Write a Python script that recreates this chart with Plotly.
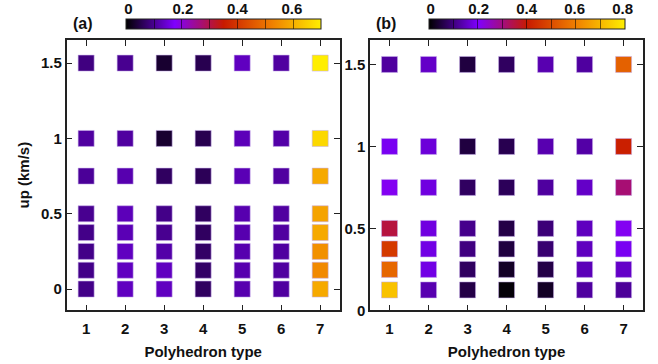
import plotly.graph_objects as go

# ---------------- data ----------------
types = [1, 2, 3, 4, 5, 6, 7]
tick_labels_x = ["1", "2", "3", "4", "5", "6", "7"]

up_a = [0.0, 0.125, 0.25, 0.375, 0.5, 0.75, 1.0, 1.5]
vals_a = [
    [0.093, 0.132, 0.132, 0.066, 0.120, 0.110, 0.590],   # 0
    [0.093, 0.132, 0.132, 0.070, 0.120, 0.110, 0.540],   # 0.125
    [0.093, 0.132, 0.115, 0.070, 0.120, 0.110, 0.550],   # 0.25
    [0.093, 0.124, 0.099, 0.066, 0.120, 0.110, 0.590],   # 0.375
    [0.099, 0.127, 0.093, 0.066, 0.120, 0.110, 0.580],   # 0.5
    [0.104, 0.120, 0.066, 0.060, 0.124, 0.110, 0.590],   # 0.75
    [0.110, 0.110, 0.033, 0.055, 0.127, 0.115, 0.665],   # 1.0
    [0.088, 0.099, 0.033, 0.055, 0.132, 0.110, 0.700],   # 1.5
]

up_b = [0.125, 0.25, 0.375, 0.5, 0.75, 1.0, 1.5]
vals_b = [
    [0.720, 0.138, 0.056, 0.006, 0.030, 0.125, 0.120],   # 0.125
    [0.550, 0.180, 0.075, 0.030, 0.056, 0.144, 0.157],   # 0.25
    [0.460, 0.180, 0.100, 0.050, 0.088, 0.150, 0.190],   # 0.375
    [0.350, 0.176, 0.110, 0.056, 0.094, 0.150, 0.210],   # 0.5
    [0.210, 0.176, 0.075, 0.070, 0.125, 0.157, 0.310],   # 0.75
    [0.190, 0.170, 0.050, 0.063, 0.138, 0.130, 0.410],   # 1.0
    [0.125, 0.157, 0.050, 0.075, 0.138, 0.125, 0.540],   # 1.5
]

cmax_a = 0.7
cmax_b = 0.8
cb_ticks_a = [0, 0.2, 0.4, 0.6]
cb_ticks_b = [0, 0.2, 0.4, 0.6, 0.8]
y_ticks_a = [0, 0.5, 1, 1.5]
y_ticks_b = [0, 0.5, 1, 1.5]

colorscale = [
    [0.0, "#000000"],
    [0.25, "#7f00ff"],
    [0.5, "#c81a00"],
    [0.75, "#f08000"],
    [1.0, "#ffee00"],
]

W, H = 658, 364
FONT = "Liberation Sans"


def px_x(p):
    return p / W


def px_y(p):
    return 1 - p / H


def flatten(ups, vals):
    xs, ys, cs = [], [], []
    for u, row in zip(ups, vals):
        for t, v in zip(types, row):
            xs.append(t)
            ys.append(u)
            cs.append(v)
    return xs, ys, cs


fig = go.Figure()

panel_specs = [
    dict(xa="x", ya="y", ups=up_a, vals=vals_a, cmax=cmax_a,
         cb_left=127, cb_right=322),
    dict(xa="x2", ya="y2", ups=up_b, vals=vals_b, cmax=cmax_b,
         cb_left=436, cb_right=632),
]

cb_top, cb_bot = 17, 27
for spec in panel_specs:
    xs, ys, cs = flatten(spec["ups"], spec["vals"])
    fig.add_trace(go.Scatter(
        x=xs, y=ys, mode="markers", xaxis=spec["xa"], yaxis=spec["ya"],
        showlegend=False, hoverinfo="skip",
        marker=dict(
            symbol="square", size=16, color=cs, colorscale=colorscale,
            cmin=0, cmax=spec["cmax"],
            line=dict(width=0.7, color="rgba(200,175,235,0.8)"),
            colorbar=dict(
                orientation="h",
                x=px_x((spec["cb_left"] + spec["cb_right"]) / 2),
                xanchor="center",
                y=px_y(cb_top), yanchor="top",
                lenmode="pixels", len=spec["cb_right"] - spec["cb_left"],
                thickness=cb_bot - cb_top, thicknessmode="pixels",
                xpad=0, ypad=0,
                outlinewidth=1, outlinecolor="#222",
                ticks="inside", ticklen=cb_bot - cb_top, tickwidth=1,
                tickcolor="rgba(0,0,0,0.55)",
                tick0=0, dtick=0.1, showticklabels=False,
            ),
        ),
    ))

# empty traces on the colorbar label axes
fig.add_trace(go.Scatter(x=[], y=[], xaxis="x3", yaxis="y3", showlegend=False))
fig.add_trace(go.Scatter(x=[], y=[], xaxis="x4", yaxis="y4", showlegend=False))

tickfont = dict(family=FONT, size=15, color="#111", weight="bold")
titlefont = dict(family=FONT, size=15, color="#111", weight="bold")

ydom = [px_y(317), px_y(38)]
common_x = dict(
    range=[0.5, 7.5], tickvals=types, ticktext=tick_labels_x,
    showline=True, linecolor="#222", linewidth=1.5, mirror="ticks",
    ticks="inside", ticklen=6, tickwidth=1.2, tickcolor="#222",
    showgrid=False, zeroline=False, tickfont=tickfont, ticklabelstandoff=4,
    title=dict(text="Polyhedron type", font=titlefont, standoff=10),
)
common_y = dict(
    showline=True, linecolor="#222", linewidth=1.5, mirror="ticks",
    ticks="inside", ticklen=6, tickwidth=1.2, tickcolor="#222",
    showgrid=False, zeroline=False, tickfont=tickfont,
)

fig.update_layout(
    width=W, height=H, margin=dict(l=0, r=0, t=0, b=0),
    paper_bgcolor="white", plot_bgcolor="white",
    xaxis=dict(domain=[px_x(64), px_x(343)], anchor="y", **common_x),
    yaxis=dict(domain=ydom, anchor="x", range=[-0.1417, 1.6545],
               tickvals=y_ticks_a, ticktext=["0", "0.5", "1", "1.5"],
               title=dict(text="up (km/s)", font=titlefont, standoff=8),
               **common_y),
    xaxis2=dict(domain=[px_x(374), px_x(653)], anchor="y2", **common_x),
    yaxis2=dict(domain=ydom, anchor="x2", range=[0, 1.65],
                tickvals=y_ticks_b, ticktext=["0", "0.5", "1", "1.5"],
                **common_y),
    xaxis3=dict(domain=[px_x(127), px_x(322)], anchor="y3", side="top",
                range=[0, cmax_a], tickvals=cb_ticks_a,
                ticktext=["0", "0.2", "0.4", "0.6"],
                showline=False, ticks="", showgrid=False, zeroline=False,
                tickfont=dict(family=FONT, size=15, color="#111", weight="bold"),
                ticklabelstandoff=1),
    yaxis3=dict(domain=[px_y(cb_bot), px_y(cb_top)], anchor="x3",
                visible=False, range=[0, 1]),
    xaxis4=dict(domain=[px_x(436), px_x(632)], anchor="y4", side="top",
                range=[0, cmax_b], tickvals=cb_ticks_b,
                ticktext=["0", "0.2", "0.4", "0.6", "0.8"],
                showline=False, ticks="", showgrid=False, zeroline=False,
                tickfont=dict(family=FONT, size=15, color="#111", weight="bold"),
                ticklabelstandoff=1),
    yaxis4=dict(domain=[px_y(cb_bot), px_y(cb_top)], anchor="x4",
                visible=False, range=[0, 1]),
    annotations=[
        dict(text="(a)", x=px_x(68), y=px_y(21), xref="paper", yref="paper",
             xanchor="left", yanchor="middle", showarrow=False,
             font=dict(family=FONT, size=16, color="#111", weight="bold")),
        dict(text="(b)", x=px_x(378), y=px_y(21), xref="paper", yref="paper",
             xanchor="left", yanchor="middle", showarrow=False,
             font=dict(family=FONT, size=16, color="#111", weight="bold")),
    ],
)

fig.write_html("out.html")
